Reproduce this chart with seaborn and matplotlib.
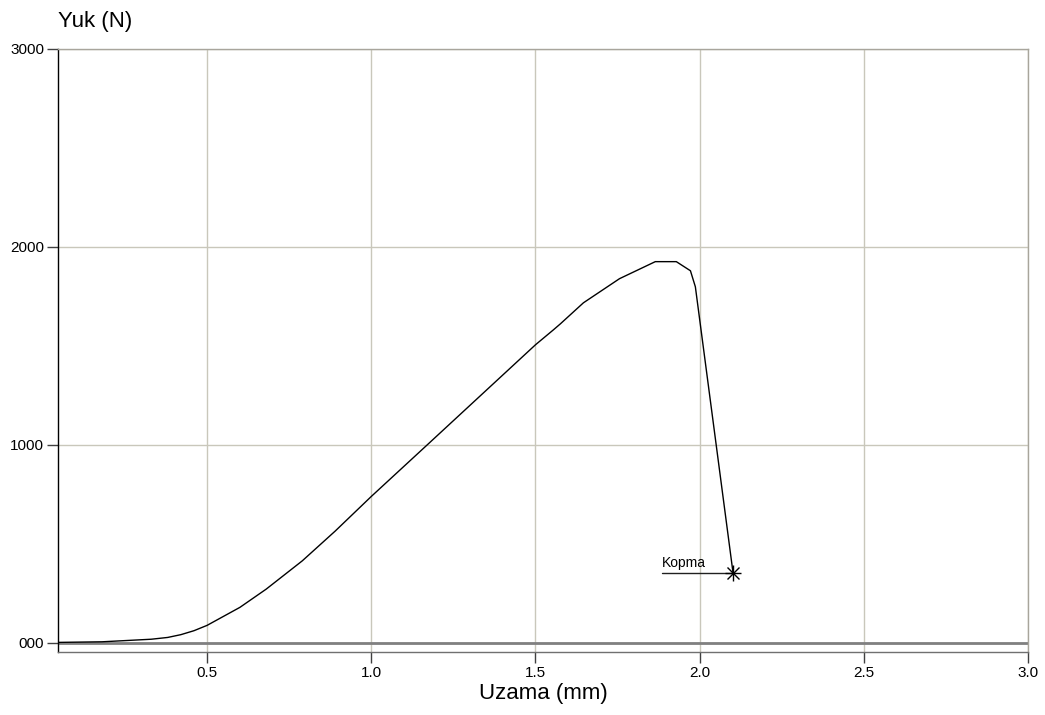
import numpy as np
import pandas as pd
import matplotlib
matplotlib.use('Agg')
import matplotlib.pyplot as plt
import seaborn as sns

# Uzama (mm) / Yuk (N) okunan degerler
uzama = [0.046, 0.18, 0.33, 0.38, 0.42, 0.46, 0.50, 0.60, 0.68, 0.79, 0.89, 1.00,
         1.17, 1.50, 1.555, 1.576, 1.646, 1.756, 1.865, 1.929, 1.972, 1.987, 2.102]
yuk = [3, 6, 19, 28, 42, 62, 89, 180, 272, 415, 565, 740,
       1000, 1506, 1582, 1612, 1718, 1840, 1926, 1926, 1880, 1799, 351]

kopma_x = 2.102
kopma_y = 351
etiket_x = 1.884
etiket_y = 383

x_ticks = [0.5, 1.0, 1.5, 2.0, 2.5, 3.0]
x_labels = ['0.5', '1.0', '1.5', '2.0', '2.5', '3.0']
y_ticks = [0, 1000, 2000, 3000]
y_labels = ['000', '1000', '2000', '3000']

df = pd.DataFrame({'Uzama': uzama, 'Yuk': yuk})

sns.set_theme(style='white')
plt.rcParams['font.family'] = ['Liberation Sans', 'DejaVu Sans']
plt.rcParams['text.color'] = 'black'

fig = plt.figure(figsize=(10.45, 7.15), dpi=100)
ax = fig.add_axes([58 / 1045, 1 - 652 / 715, (1028 - 58) / 1045, (652 - 49) / 715])

ax.grid(True, color='#c9c7bb', linewidth=1.0)
ax.axhline(0, color='#808080', linewidth=2.0, zorder=1.5)

sns.lineplot(data=df, x='Uzama', y='Yuk', color='black', linewidth=1.0,
             sort=False, estimator=None, ax=ax, zorder=3)

# Kopma noktasi
ax.plot([etiket_x, kopma_x], [kopma_y, kopma_y], color='#202020', linewidth=1.0, zorder=3)
ax.plot(kopma_x, kopma_y, marker='+', markersize=11, color='black', mew=1.0, zorder=4)
ax.plot(kopma_x, kopma_y, marker='x', markersize=8, color='black', mew=1.0, zorder=4)
ax.text(etiket_x, etiket_y, 'Kopma', fontsize=10, ha='left', va='baseline', color='black')

ax.set_xlim(0.046, 3.0)
ax.set_ylim(-45.5, 3000)
ax.set_xticks(x_ticks)
ax.set_xticklabels(x_labels)
ax.set_yticks(y_ticks)
ax.set_yticklabels(y_labels)
ax.tick_params(axis='both', which='major', direction='out', length=8, width=1.0,
               color='#404040', labelsize=11, labelcolor='black', pad=2,
               bottom=True, left=True)
ax.set_xlabel('')
ax.set_ylabel('')

for side in ['top', 'right']:
    ax.spines[side].set_color('#a8a59c')
    ax.spines[side].set_linewidth(1.0)
ax.spines['bottom'].set_color('#707070')
ax.spines['bottom'].set_linewidth(1.0)
ax.spines['left'].set_color('black')
ax.spines['left'].set_linewidth(1.0)

fig.text(58 / 1045, 1 - 22 / 715, 'Yuk (N)', fontsize=16, ha='left', va='center', color='black')
fig.text(543 / 1045, 1 - 693 / 715, 'Uzama (mm)', fontsize=16, ha='center', va='center', color='black')

fig.savefig('out.png', dpi=100, facecolor='white')
